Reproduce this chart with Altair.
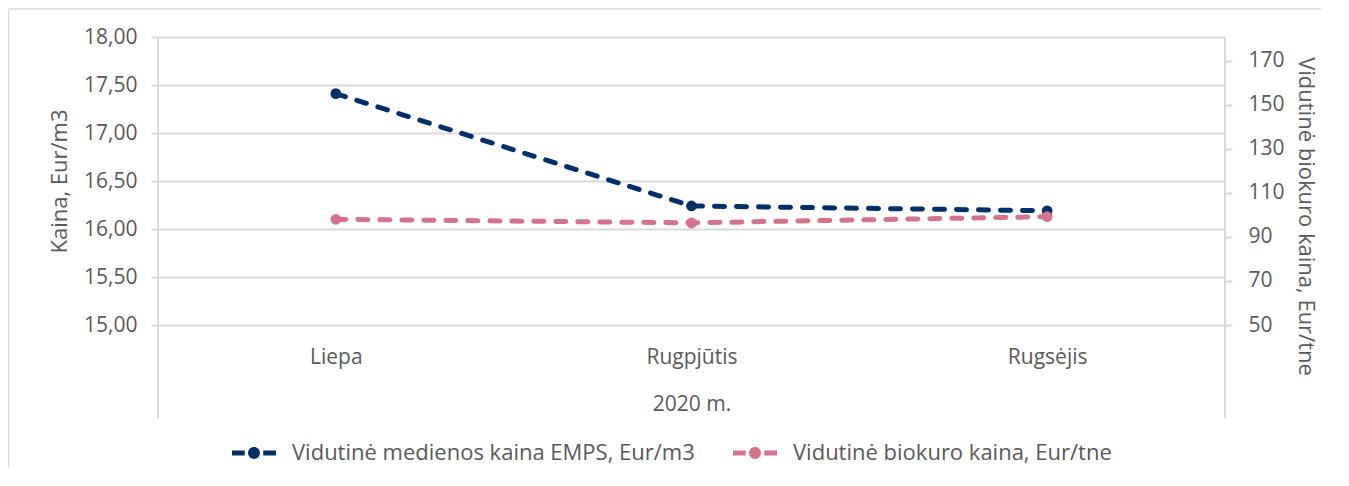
import altair as alt
import pandas as pd

months = ["Liepa", "Rugpjūtis", "Rugsėjis"]
series = ["Vidutinė medienos kaina EMPS, Eur/m3", "Vidutinė biokuro kaina, Eur/tne"]
wood_price = [17.41, 16.24, 16.19]
bio_price = [98.0, 96.4, 99.2]
colors = ["#002F6C", "#D6728C"]
left_ticks = [15.0, 15.5, 16.0, 16.5, 17.0, 17.5, 18.0]
right_ticks = [50, 70, 90, 110, 130, 150, 170]

rows = []
for m, w, b in zip(months, wood_price, bio_price):
    rows.append({"month": m, "series": series[0], "value": w})
    rows.append({"month": m, "series": series[1], "value": b})
df = pd.DataFrame(rows)

FONT = "Open Sans"
FS = 22
TXT = "#595959"
GRID = "#D9D9D9"
W, H = 1067, 288

legend_symbol = (
    "M-1,-0.11 L-0.42,-0.11 L-0.42,0.11 L-1,0.11 Z "
    "M0.42,-0.11 L1,-0.11 L1,0.11 L0.42,0.11 Z "
    "M-0.27,0 A0.27,0.27 0 1,1 0.27,0 A0.27,0.27 0 1,1 -0.27,0 Z"
)

x_enc = alt.X(
    "month:N",
    sort=months,
    axis=alt.Axis(
        labelAngle=0, ticks=False, tickSize=0, domain=False, grid=False,
        labelPadding=32, labelBaseline="middle",
        labelFont=FONT, labelFontSize=FS - 1, labelColor=TXT,
        title="2020 m.", titleY=79, titleBaseline="middle",
        titleFont=FONT, titleFontSize=FS - 1, titleFontWeight="normal", titleColor=TXT,
    ),
)

color_enc = alt.Color(
    "series:N",
    scale=alt.Scale(domain=series, range=colors),
    legend=alt.Legend(
        orient="none", legendX=74, legendY=394, direction="horizontal",
        title=None, symbolType=legend_symbol, symbolSize=1936,
        symbolStrokeWidth=0, symbolOpacity=1,
        labelFont=FONT, labelFontSize=FS, labelColor=TXT,
        labelOffset=16, columnPadding=38, labelLimit=600,
    ),
)

y_left = alt.Y(
    "value:Q",
    scale=alt.Scale(domain=[15, 18], nice=False, zero=False),
    axis=alt.Axis(
        values=left_ticks,
        labelExpr="replace(format(datum.value, '.2f'), '.', ',')",
        grid=True, gridColor=GRID, gridWidth=2, domain=False,
        tickSize=7, tickColor=GRID, tickWidth=2, labelPadding=14,
        labelFont=FONT, labelFontSize=FS - 1, labelColor=TXT,
        title="Kaina, Eur/m3", titleX=-99, titleY=144, titleAngle=-90,
        titleBaseline="middle", titleAlign="center",
        titleFont=FONT, titleFontSize=FS, titleFontWeight="normal", titleColor=TXT,
    ),
)

y_right = alt.Y(
    "value:Q",
    scale=alt.Scale(domain=[50, 180.8], nice=False, zero=False),
    axis=alt.Axis(
        orient="right", values=right_ticks, format="d",
        grid=False, domain=False,
        tickSize=7, tickColor=GRID, tickWidth=2, labelPadding=16,
        labelFont=FONT, labelFontSize=FS - 1, labelColor=TXT,
        title="Vidutinė biokuro kaina, Eur/tne", titleX=80, titleY=179, titleAngle=90,
        titleBaseline="middle", titleAlign="center",
        titleFont=FONT, titleFontSize=FS, titleFontWeight="normal", titleColor=TXT,
    ),
)

frame_data = alt.Data(values=[{"k": 1}])
border_top = alt.Chart(frame_data).mark_rule(color=GRID, strokeWidth=1.5).encode(
    x=alt.value(-149.5), x2=alt.value(W + 600), y=alt.value(-28)
)
border_left = alt.Chart(frame_data).mark_rule(color=GRID, strokeWidth=1.5).encode(
    x=alt.value(-149.5), y=alt.value(-28), y2=alt.value(H + 400)
)
left_line = alt.Chart(frame_data).mark_rule(color=GRID, strokeWidth=2).encode(
    x=alt.value(0), y=alt.value(0), y2=alt.value(381)
)
right_line = alt.Chart(frame_data).mark_rule(color=GRID, strokeWidth=2).encode(
    x=alt.value(W), y=alt.value(0), y2=alt.value(381)
)

base = alt.Chart(df)
wood = base.transform_filter(alt.datum.series == series[0])
bio = base.transform_filter(alt.datum.series == series[1])

line_kw = dict(strokeWidth=5, strokeDash=[10, 12], strokeCap="round")

wood_layer = alt.layer(
    wood.mark_line(color=colors[0], **line_kw).encode(x=x_enc, y=y_left),
    wood.mark_point(filled=True, size=115, opacity=1).encode(x=x_enc, y=y_left, color=color_enc),
)
bio_layer = alt.layer(
    bio.mark_line(color=colors[1], **line_kw).encode(x=x_enc, y=y_right),
    bio.mark_point(filled=True, size=115, opacity=1).encode(x=x_enc, y=y_right, color=color_enc),
)

chart = alt.layer(
    border_top, border_left, left_line, right_line, wood_layer, bio_layer
).resolve_scale(y="independent").properties(
    width=W, height=H,
    padding={"left": 150, "top": 29, "right": 96, "bottom": 143},
    autosize=alt.AutoSizeParams(type="none"),
    background="white",
).configure_view(stroke=None)

chart.save("out.html", embed_options={"renderer": "svg", "actions": False})
